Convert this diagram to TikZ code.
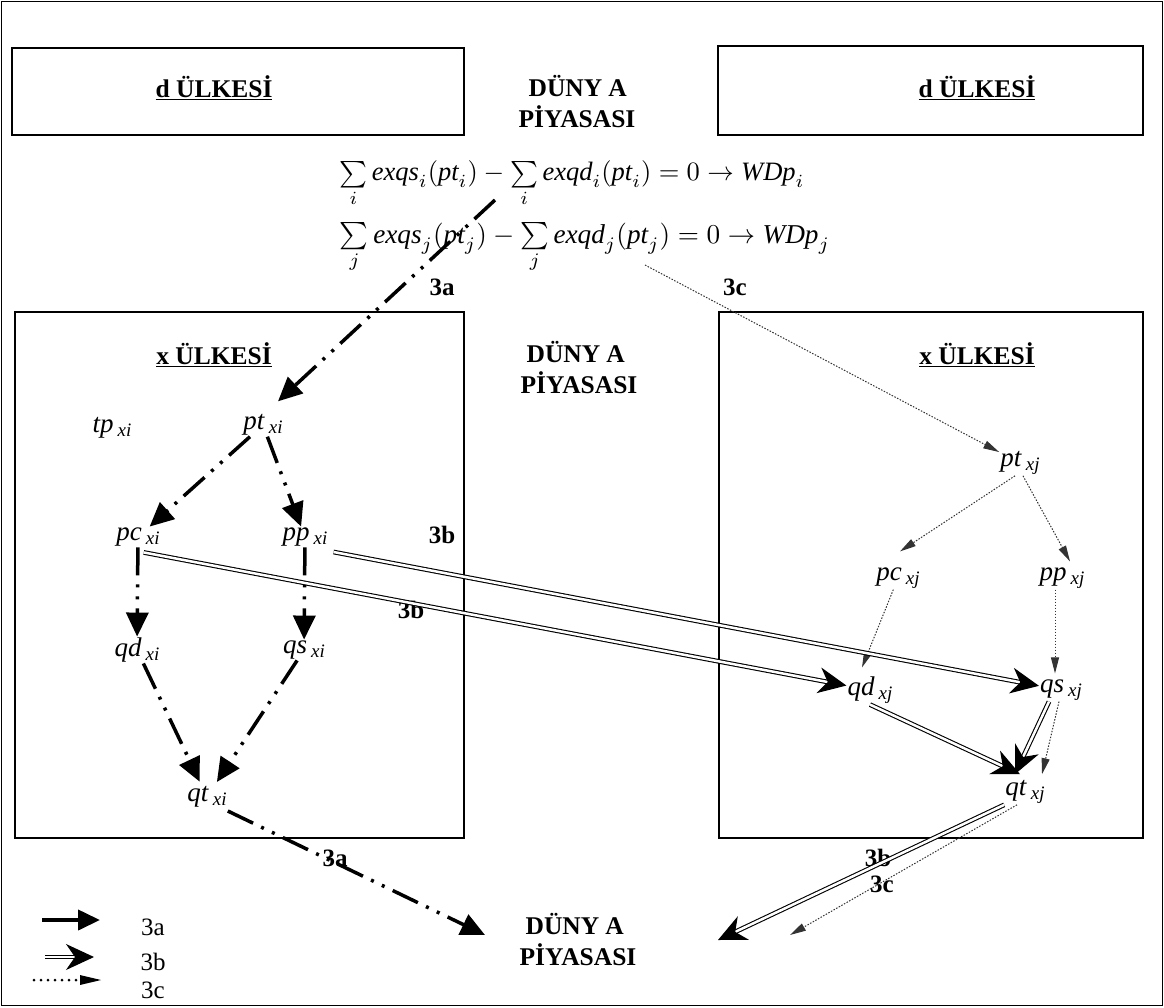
\documentclass[tikz,border=0pt]{standalone}
\usepackage{fontspec}
\usepackage{graphicx}
\setmainfont{Liberation Serif}
\usetikzlibrary{arrows.meta,calc}
\newcommand\vlab[2]{\textit{#1}\hspace{4pt}\raisebox{-4pt}{\fontsize{19}{19}\selectfont\textit{#2}}}
\tikzset{
  frame/.style={draw, line width=1.2pt},
  ttl/.style={font=\fontsize{25.5}{31}\selectfont\bfseries, align=left, inner sep=0pt},
  lab/.style={font=\fontsize{27}{27}\selectfont, inner sep=1pt},
  num/.style={font=\fontsize{25}{25}\selectfont\bfseries, inner sep=0pt},
  legtxt/.style={font=\fontsize{25}{25}\selectfont, inner sep=0pt},
  a3/.style={line width=3.5pt, dash pattern=on 28pt off 9pt on 3pt off 9pt on 3pt off 9pt,
             -{Triangle[length=24pt,width=22pt]}},
  b3/.style={double, line width=1.1pt, double distance=2.5pt,
             -{Stealth[length=28pt,width=26pt,inset=9pt]}},
  c3/.style={line width=1pt, black!80, dash pattern=on 1.5pt off 1.5pt,
             -{Triangle[length=16pt,width=8pt]}},
}
\begin{document}
\begin{tikzpicture}[x=1pt,y=-1pt]
\useasboundingbox (0,0) rectangle (1164,1007);
\draw[line width=1.5pt] (1.5,1.5) rectangle (1162.5,1005.5);

% boxes
\draw[frame] (12,48) rectangle (464,135);
\draw[frame] (718,46) rectangle (1143,135);
\draw[frame] (15,312) rectangle (464,838);
\draw[frame] (719,312) rectangle (1143,838);

\node[ttl] (dL) at (214,88) {\underline{d ÜLKESİ}};
\node[ttl] (dR) at (977,88) {\underline{d ÜLKESİ}};
\node[ttl] (xL) at (214,355) {\underline{x ÜLKESİ}};
\node[ttl] (xR) at (977,355) {\underline{x ÜLKESİ}};

\node[ttl] (w1) at (577,102) {\hspace{10pt}DÜNY\kern6pt A\\PİYASASI};
\node[ttl] (w2) at (579,368) {\hspace{6pt}DÜNY\kern6pt A\\PİYASASI};
\node[ttl] (w3) at (578,940) {\hspace{6pt}DÜNY\kern6pt A\\PİYASASI};

% equations
\node[inner sep=0pt] (eqa) at (572,184) {\resizebox{465pt}{!}{$\sum\limits_i \mathit{exqs}_i(\mathit{pt}_i) - \sum\limits_i \mathit{exqd}_i(\mathit{pt}_i) = 0 \rightarrow \mathit{WDp}_i$}};
\node[inner sep=0pt] (eqb) at (585,248) {\resizebox{490pt}{!}{$\sum\limits_j \mathit{exqs}_j(\mathit{pt}_j) - \sum\limits_j \mathit{exqd}_j(\mathit{pt}_j) = 0 \rightarrow \mathit{WDp}_j$}};

% left nodes
\node[lab] (tpxi) at (112,428) {\vlab{tp}{xi}};
\node[lab] (ptxi) at (263,425) {\vlab{pt}{xi}};
\node[lab] (pcxi) at (138,537) {\vlab{pc}{xi}};
\node[lab] (ppxi) at (305,537) {\vlab{pp}{xi}};
\node[lab] (qdxi) at (137,650) {\vlab{qd}{xi}};
\node[lab] (qsxi) at (304,650) {\vlab{qs}{xi}};
\node[lab] (qtxi) at (207,797) {\vlab{qt}{xi}};
% right nodes
\node[lab] (ptxj) at (1020,463) {\vlab{pt}{xj}};
\node[lab] (pcxj) at (898,578) {\vlab{pc}{xj}};
\node[lab] (ppxj) at (1062,578) {\vlab{pp}{xj}};
\node[lab] (qdxj) at (870,690) {\vlab{qd}{xj}};
\node[lab] (qsxj) at (1061,690) {\vlab{qs}{xj}};
\node[lab] (qtxj) at (1025,792) {\vlab{qt}{xj}};

% number labels
\node[num] (n1) at (442,287) {3a};
\node[num] (n2) at (735,287) {3c};
\node[num] (n3) at (442,535) {3b};
\node[num] (n4) at (411,610) {3b};
\node[num] (n5) at (335,858) {3a};
\node[num] (n6) at (878,858) {3b};
\node[num] (n7) at (882,884) {3c};

% free ends
\coordinate (s3a) at (495,200);
\coordinate (s3c) at (645,265);
\coordinate (e3a) at (485,935);
\coordinate (e3b) at (718,940);
\coordinate (e3c) at (790,935);

% 3a connectors
\draw[a3] (s3a) -- ($(ptxi.north)+(15,-12)$);
\draw[a3] (ptxi) -- (pcxi);
\draw[a3] (ptxi) -- (ppxi);
\draw[a3] (pcxi) -- (qdxi);
\draw[a3] (ppxi) -- (qsxi);
\draw[a3, shorten >=4pt] (qdxi) -- (qtxi);
\draw[a3, shorten >=4pt] (qsxi) -- (qtxi);
\draw[a3] ($(qtxi.east)+(0,14)$) -- (e3a);

% 3c connectors
\draw[c3] (s3c) -- (ptxj);
\draw[c3] ($(ptxj.south)+(-5,0)$) -- ($(pcxj.north)+(2,-15)$);
\draw[c3] ($(ptxj.south)+(3,0)$) -- ($(ppxj.north)+(8,-5)$);
\draw[c3] (pcxj) -- ($(qdxj.north)+(-8,-8)$);
\draw[c3] ($(ppxj.south)+(-7,0)$) -- ($(qsxj.north)+(-6,-5)$);
\draw[c3] ($(qsxj.south)+(-2,0)$) -- ($(qtxj.north)+(17,-5)$);
\draw[c3] ($(qtxj.south)+(-8,0)$) -- (e3c);

% 3b connectors
\draw[b3] ($(pcxi.south east)+(-17,5)$) -- (qdxj);
\draw[b3] ($(ppxi.east)+(5,15)$) -- (qsxj);
\draw[b3] (qdxj.south) -- ($(qtxj.north)+(-5,-5)$);
\draw[b3] ($(qsxj.south)+(-12,0)$) -- ($(qtxj.north)+(-10,-5)$);
\draw[b3] (qtxj.south west) -- (e3b);

% legend
\coordinate (l1s) at (42,920); \coordinate (l1e) at (100,920);
\coordinate (l2s) at (45,957); \coordinate (l2e) at (94,957);
\coordinate (l3s) at (34,980); \coordinate (l3e) at (102,980);
\draw[line width=4pt, -{Triangle[length=22pt,width=20pt]}] (l1s) -- (l1e);
\draw[b3] (l2s) -- (l2e);
\draw[line width=3pt, line cap=round, dash pattern=on 0pt off 7pt, -{Triangle[length=22pt,width=9pt]}] (l3s) -- (l3e);
\node[legtxt] (t1) at (153,927) {3a};
\node[legtxt] (t2) at (153,962) {3b};
\node[legtxt] (t3) at (153,990) {3c};
\end{tikzpicture}
\end{document}
